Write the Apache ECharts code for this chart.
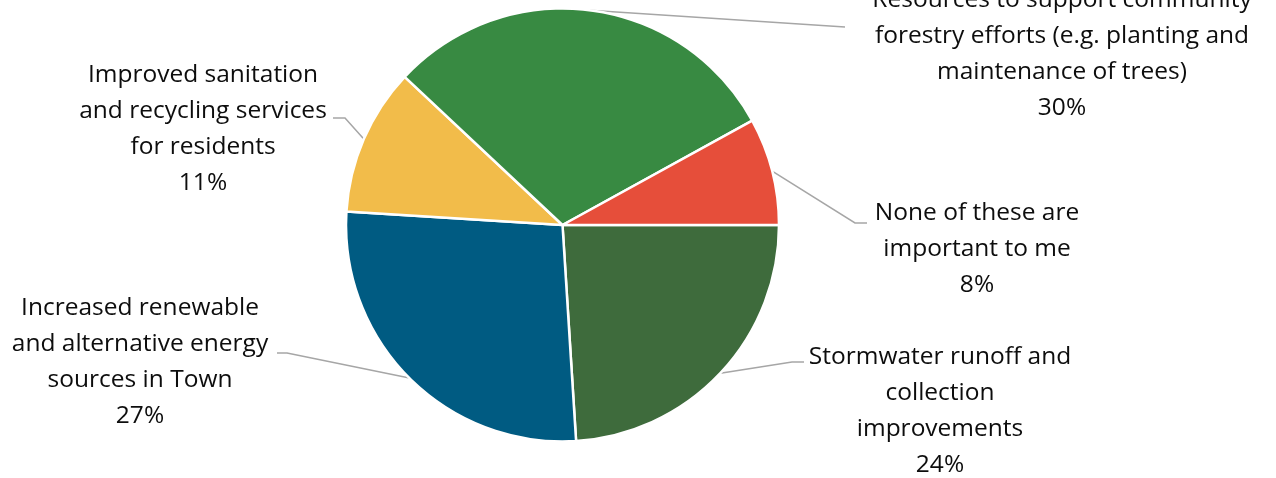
<!DOCTYPE html>
<html>
<head>
<meta charset="utf-8">
<script src="https://cdn.jsdelivr.net/npm/echarts@6/dist/echarts.min.js"></script>
<style>
  html, body { margin: 0; padding: 0; background: #ffffff; }
  #chart { width: 1276px; height: 478px; }
</style>
</head>
<body>
<div id="chart"></div>
<script>
// Survey answers, in clockwise order starting at 3 o'clock
const categories = [
  'Stormwater runoff and\ncollection\nimprovements',
  'Increased renewable\nand alternative energy\nsources in Town',
  'Improved sanitation\nand recycling services\nfor residents',
  'Resources to support community\nforestry efforts (e.g. planting and\nmaintenance of trees)',
  'None of these are\nimportant to me'
];
const shares = [24, 27, 11, 30, 8];
const sliceColors = ['#3E6B3C', '#005B82', '#F2BC4A', '#388A42', '#E64E3A'];

// Where each label block sits (centre x, top y) and how its leader bends
const labelPlacement = [
  { cx: 940,  top: 339, elbow: [792, 362], end: [804, 362] },
  { cx: 140,  top: 290, elbow: [287, 353], end: [277, 353] },
  { cx: 203,  top: 57,  elbow: [345, 118], end: [333, 118] },
  { cx: 1062, top: -18, elbow: [845, 27],  end: [845, 27] },
  { cx: 977,  top: 195, elbow: [855, 223], end: [867, 223] }
];

const chart = echarts.init(document.getElementById('chart'), null, { renderer: 'canvas' });

chart.setOption({
  backgroundColor: '#ffffff',
  animation: false,
  series: [{
    type: 'pie',
    center: [562.5, 225],
    radius: 216.5,
    startAngle: 0,
    clockwise: true,
    avoidLabelOverlap: false,
    itemStyle: { borderColor: '#ffffff', borderWidth: 2.5 },
    label: {
      show: true,
      position: 'outside',
      formatter: '{b}\n{c}%',
      fontFamily: '"Open Sans", "Noto Sans", sans-serif',
      fontSize: 24.5,
      lineHeight: 36,
      color: '#0d0d0d',
      align: 'center'
    },
    labelLine: {
      show: true,
      length: 20,
      length2: 10,
      lineStyle: { color: '#A6A6A6', width: 1.5 }
    },
    labelLayout: function (params) {
      const p = labelPlacement[params.dataIndex];
      const start = params.labelLinePoints ? params.labelLinePoints[0] : p.elbow;
      return {
        x: p.cx,
        y: p.top,
        align: 'center',
        verticalAlign: 'top',
        labelLinePoints: [start, p.elbow, p.end]
      };
    },
    data: categories.map((name, i) => ({
      name: name,
      value: shares[i],
      itemStyle: { color: sliceColors[i] }
    }))
  }]
});
</script>
</body>
</html>
